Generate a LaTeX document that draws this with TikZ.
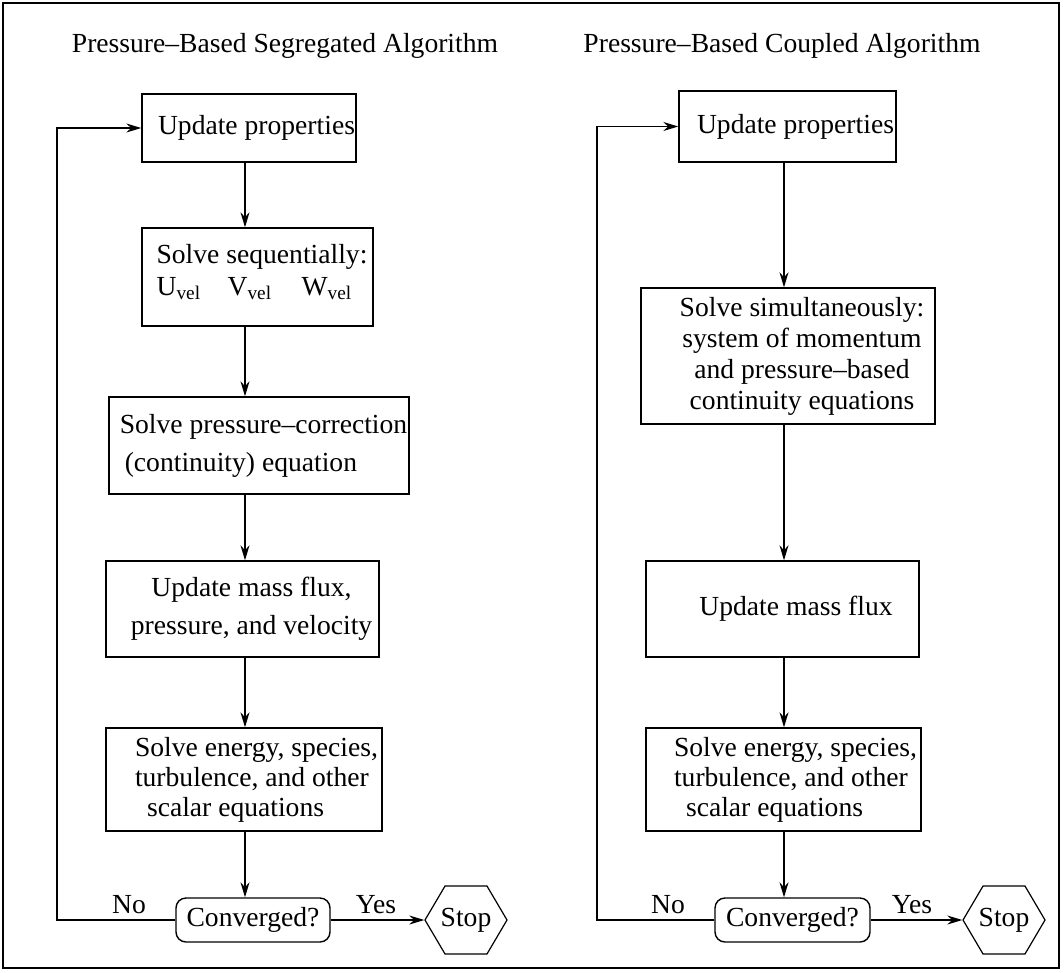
\documentclass[tikz,border=0pt]{standalone}
\usepackage{fontspec}
\setmainfont{Liberation Serif}
\usetikzlibrary{positioning, arrows.meta, shapes.symbols}

\begin{document}
\begin{tikzpicture}[
    x=1pt, y=-1pt,
    % Process box style
    procbox/.style={
        rectangle,
        draw=black,
        line width=1.4pt,
        inner sep=0pt
    },
    % Text set inside the boxes
    boxtext/.style={
        font=\fontsize{27.6}{32}\selectfont,
        align=center,
        inner sep=0pt
    },
    % Decision box style
    decision/.style={
        rectangle,
        rounded corners=10pt,
        draw=black,
        line width=1.4pt,
        minimum width=154pt,
        minimum height=44pt,
        inner sep=0pt,
        font=\fontsize{27.6}{32}\selectfont
    },
    % Stop hexagon style
    stopbox/.style={
        signal,
        signal to=west and east,
        signal pointer angle=119,
        draw=black,
        line width=1.2pt,
        minimum width=82pt,
        minimum height=68pt,
        inner sep=0pt,
        label={[boxtext]center:Stop}
    },
    % Arrow style
    arrow/.style={
        -{Stealth[length=15pt, width=9pt]},
        line width=1.4pt,
        black
    },
    % Label style
    lbl/.style={
        font=\fontsize{27.6}{32}\selectfont
    }
]

\useasboundingbox (0,0) rectangle (1064,972);
\draw[line width=1.6pt] (3,3) rectangle (1059,968);

% === Titles ===
\node[lbl, anchor=base] (segTitle) at (285,52) {Pressure--Based Segregated Algorithm};
\node[lbl, anchor=base] (cplTitle) at (782,52) {Pressure--Based Coupled Algorithm};

% === Segregated algorithm ===
\coordinate (segAxis) at (245,0);
\coordinate (segLoop) at (57,0);

\node[procbox, minimum width=214, minimum height=68,
      label={[boxtext, xshift=7.5]center:Update properties}]
      (segProps) at (249,128) {};
\node[procbox, minimum width=231, minimum height=98,
      label={[boxtext, align=left, xshift=4.5, yshift=5]center:{Solve sequentially:\\
      U\textsubscript{vel}\hspace{27pt}V\textsubscript{vel}\hspace{30pt}W\textsubscript{vel}}}]
      (segSeq) at (257.5,277) {};
\node[procbox, minimum width=300, minimum height=97,
      label={[boxtext, align=left, xshift=4.5]center:{Solve pressure--correction\\[6pt]
      \hspace*{5pt}(continuity) equation}}]
      (segPres) at (259,445.5) {};
\node[procbox, minimum width=273, minimum height=96,
      label={[boxtext, xshift=9]center:{Update mass flux,\\[6pt]pressure, and velocity}}]
      (segFlux) at (242.5,609) {};
\node[procbox, minimum width=276, minimum height=103,
      label={[boxtext, align=left, xshift=12.5]center:{Solve energy, species,\\[-2pt]
      turbulence, and other\\[-2pt]\hspace*{12pt}scalar equations}}]
      (segScal) at (244,779.5) {};

\node[decision] (segConv) at (253,920) {Converged?};
\node[stopbox] (segStop) at (466,920) {};

\draw[arrow] (segAxis |- segProps.south) -- (segAxis |- segSeq.north);
\draw[arrow] (segAxis |- segSeq.south) -- (segAxis |- segPres.north);
\draw[arrow] (segAxis |- segPres.south) -- (segAxis |- segFlux.north);
\draw[arrow] (segAxis |- segFlux.south) -- (segAxis |- segScal.north);
\draw[arrow] (segAxis |- segScal.south) -- (segAxis |- segConv.north);
\draw[arrow] (segConv.east) -- (segStop.west);
\draw[arrow] (segConv.west) -- (segConv.west -| segLoop) |- (segProps.west);

\node[lbl, anchor=base] (segNo) at (129,913) {No};
\node[lbl, anchor=base] (segYes) at (376,913) {Yes};

% === Coupled algorithm ===
\coordinate (cplAxis) at (784,0);
\coordinate (cplLoop) at (597,0);

\node[procbox, minimum width=217, minimum height=71,
      label={[boxtext, xshift=8]center:Update properties}]
      (cplProps) at (787.5,126.5) {};
\node[procbox, minimum width=294, minimum height=136,
      label={[boxtext, xshift=14]center:{Solve simultaneously:\\[-1pt]
      system of momentum\\[-1pt]and pressure--based\\[-1pt]continuity equations}}]
      (cplSim) at (788,356) {};
\node[procbox, minimum width=273, minimum height=96,
      label={[boxtext, xshift=13.5]center:Update mass flux}]
      (cplFlux) at (782.5,609) {};
\node[procbox, minimum width=275, minimum height=103,
      label={[boxtext, align=left, xshift=12]center:{Solve energy, species,\\[-2pt]
      turbulence, and other\\[-2pt]\hspace*{12pt}scalar equations}}]
      (cplScal) at (783.5,779.5) {};

\node[decision, minimum width=155] (cplConv) at (792.5,920) {Converged?};
\node[stopbox] (cplStop) at (1004,920) {};

\draw[arrow] (cplAxis |- cplProps.south) -- (cplAxis |- cplSim.north);
\draw[arrow] (cplAxis |- cplSim.south) -- (cplAxis |- cplFlux.north);
\draw[arrow] (cplAxis |- cplFlux.south) -- (cplAxis |- cplScal.north);
\draw[arrow] (cplAxis |- cplScal.south) -- (cplAxis |- cplConv.north);
\draw[arrow] (cplConv.east) -- (cplStop.west);
\draw[arrow] (cplConv.west) -- (cplConv.west -| cplLoop) |- (cplProps.west);

\node[lbl, anchor=base] (cplNo) at (668,913) {No};
\node[lbl, anchor=base] (cplYes) at (912,913) {Yes};

\end{tikzpicture}
\end{document}
